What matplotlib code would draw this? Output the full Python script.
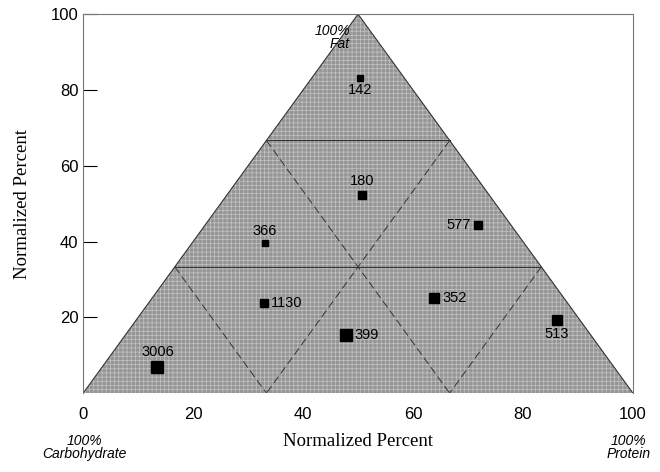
import matplotlib.pyplot as plt
import numpy as np

# points in (x, y) = normalized percent, with count labels
labels = ['142', '180', '577', '366', '1130', '352', '399', '513', '3006']
xs = [50.4, 50.7, 71.8, 33.1, 32.9, 63.8, 47.8, 86.2, 13.5]
ys = [83.2, 52.4, 44.5, 39.5, 23.8, 25.1, 15.4, 19.4, 6.8]
msizes = [5, 6, 6, 5, 6, 7, 8, 7, 9]
# label placement relative to marker (dx, dy in points, ha, va)
offsets = [(0, -4, 'center', 'top'), (0, 5, 'center', 'bottom'),
           (-5, 0, 'right', 'center'), (0, 4, 'center', 'bottom'),
           (5, 0, 'left', 'center'), (6, 0, 'left', 'center'),
           (6, 0, 'left', 'center'), (0, -5, 'center', 'top'),
           (0, 6, 'center', 'bottom')]

yticks = [20, 40, 60, 80, 100]
xticks = [0, 20, 40, 60, 80, 100]

sans = 'Liberation Sans'
serif = 'Liberation Serif'

fig = plt.figure(figsize=(6.6, 4.72), dpi=100)
ax = fig.add_axes([0.126, 0.167, 0.833, 0.803])
ax.set_xlim(0, 100)
ax.set_ylim(0, 99.5)

verts = [[0, 0], [50, 100], [100, 0]]
ax.add_patch(plt.Polygon(verts, closed=True, facecolor='#959595',
                         edgecolor='none', zorder=1))
# texture on top of the grey
plt.rcParams['hatch.linewidth'] = 0.5
ax.add_patch(plt.Polygon(verts, closed=True, facecolor='none',
                         edgecolor='#c4c4c4', lw=0, hatch='++++', zorder=1.5))
ax.plot([0, 50, 100], [0, 100, 0], color='#333333', lw=0.8, zorder=2)

# horizontal thirds
t1, t2 = 100 / 3, 200 / 3
ax.plot([t1 / 2, 100 - t1 / 2], [t1, t1], color='#333333', lw=0.8, zorder=2)
ax.plot([t2 / 2, 100 - t2 / 2], [t2, t2], color='#333333', lw=0.8, zorder=2)
# dashed lines parallel to sides
dash = dict(color='#333333', lw=0.7, ls=(0, (8, 4)), zorder=2)
ax.plot([t1 / 2, t1], [t1, 0], **dash)
ax.plot([t1, t2], [t2, 0], **dash)
ax.plot([t2, t1], [t2, 0], **dash)
ax.plot([100 - t1 / 2, t2], [t1, 0], **dash)

for lab, x, y, ms, (dx, dy, ha, va) in zip(labels, xs, ys, msizes, offsets):
    ax.plot(x, y, marker='s', color='black', ms=ms, zorder=3)
    ax.annotate(lab, (x, y), xytext=(dx, dy), textcoords='offset points',
                ha=ha, va=va, fontsize=10.5, family=sans, zorder=4)

ax.set_yticks(yticks)
ax.set_xticks(xticks)
ax.tick_params(axis='y', direction='in', length=10, width=0.8, labelsize=12)
ax.tick_params(axis='x', length=0, labelsize=12, pad=10)
for t in ax.get_xticklabels() + ax.get_yticklabels():
    t.set_family(sans)
ax.spines['bottom'].set_visible(False)
for s in ['left', 'top', 'right']:
    ax.spines[s].set_color('#777777')
    ax.spines[s].set_linewidth(0.8)

ax.set_xlabel('Normalized Percent', family=serif, fontsize=13.5, labelpad=8)
ax.set_ylabel('Normalized Percent', family=serif, fontsize=13.5, labelpad=14)

fig.text(0.128, 0.052, '100%\nCarbohydrate', ha='center', va='center',
         style='italic', family=sans, fontsize=10, linespacing=0.95)
fig.text(0.952, 0.052, '100%\nProtein', ha='center', va='center',
         style='italic', family=sans, fontsize=10, linespacing=0.95)
ax.text(48.5, 97.5, '100%\nFat', ha='right', va='top',
        style='italic', family=sans, fontsize=10, linespacing=0.95, zorder=4)

fig.savefig('out.png', dpi=100)
